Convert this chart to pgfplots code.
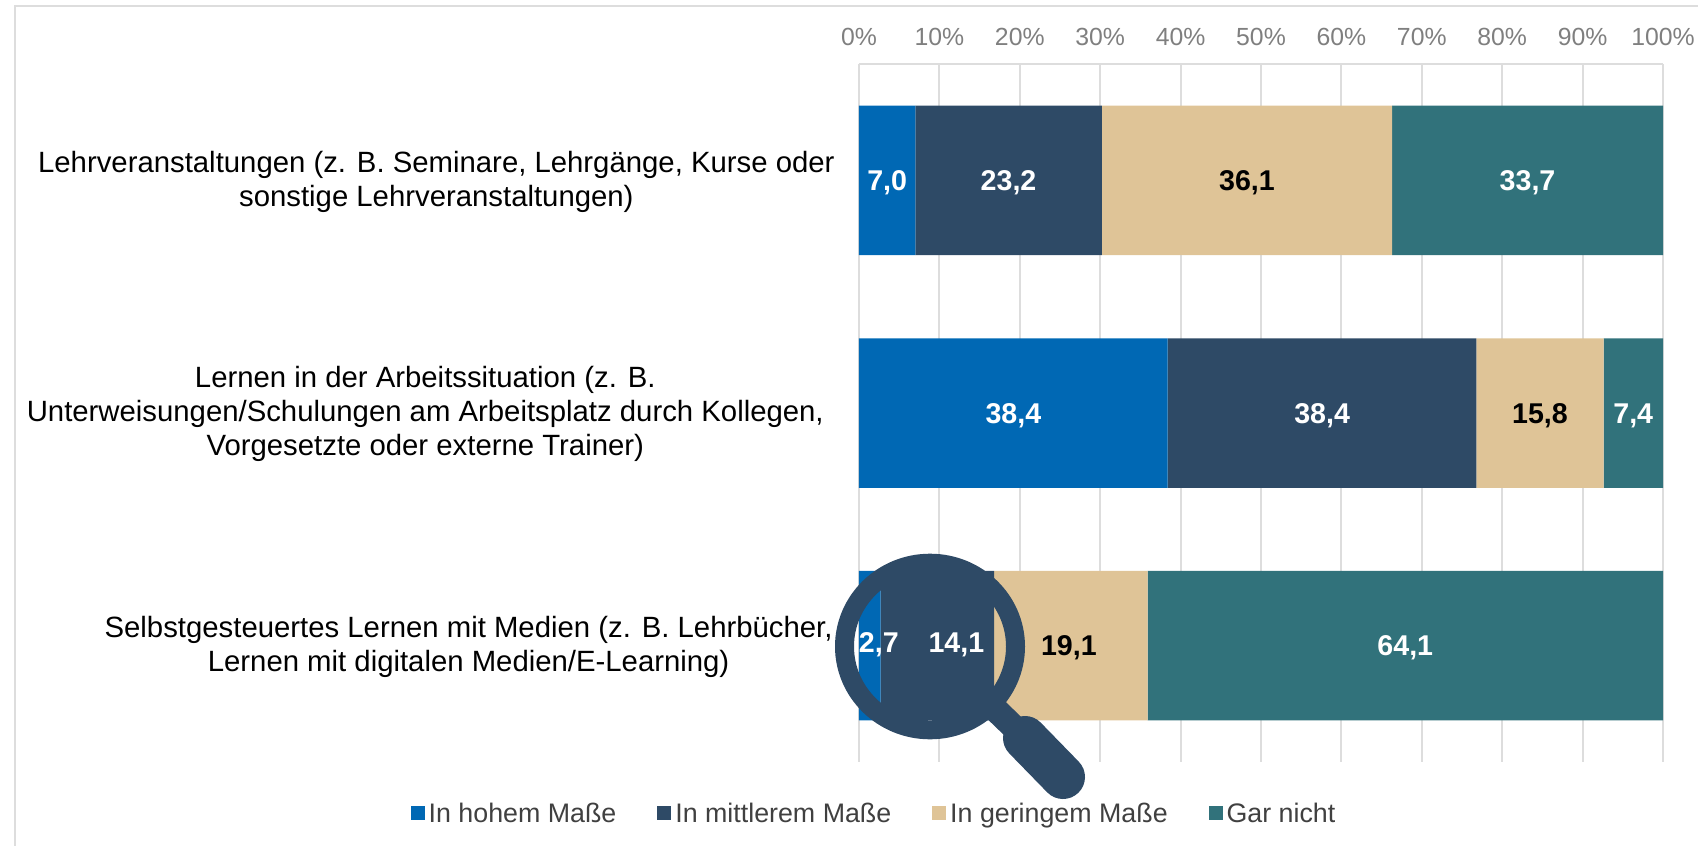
\documentclass[border=0pt]{standalone}
\usepackage{pgfplots}
\usepackage{pgfplotstable}
\usepackage{fontspec}
\setmainfont{Liberation Sans}
\pgfplotsset{compat=1.18}
\definecolor{cblue}{HTML}{0068B4}
\definecolor{cnavy}{HTML}{2E4A66}
\definecolor{ctan}{HTML}{DFC497}
\definecolor{cteal}{HTML}{31727B}
\definecolor{cgrid}{HTML}{DDDDDD}
\definecolor{ctick}{HTML}{7F7F7F}
\definecolor{cleg}{HTML}{404040}
\pgfplotstableread{
c v lab dx dy
0 7.0 7,0 0 0
1 38.4 38,4 0 0
2 2.7 2,7 4.5 1.5
}\hoch
\pgfplotstableread{
c v lab dx dy
0 23.2 23,2 0 0
1 38.4 38,4 0 0
2 14.1 14,1 9.5 1.5
}\mittel
\pgfplotstableread{
c v lab dx dy
0 36.1 36,1 0 0
1 15.8 15,8 0 0
2 19.1 19,1 -1 0
}\gering
\pgfplotstableread{
c v lab dx dy
0 33.7 33,7 0 0
1 7.4 7,4 0 0
2 64.1 64,1 0 0
}\garnicht
\begin{document}
\begin{tikzpicture}[x=0.5pt,y=-0.5pt]
\path[use as bounding box] (0,0) rectangle (1698,846);
\draw[cgrid,line width=1pt] (15,846) -- (15,6) -- (1698,6);
\begin{axis}[
  at={(429.5pt,-381pt)}, anchor=south west,
  scale only axis, width=402pt, height=349pt,
  xbar stacked, bar width=74.75pt,
  xmin=0, xmax=100, ymin=-0.5, ymax=2.5, y dir=reverse,
  axis x line*=top, axis y line*=left,
  axis line style={cgrid,line width=1pt},
  xtick={0,10,...,100}, xticklabel={\pgfmathprintnumber{\tick}\%},
  /pgf/number format/assume math mode=true,
  xticklabel style={font=\fontsize{12.4}{14}\selectfont,text=ctick,yshift=5.5pt},
  xmajorgrids, grid style={cgrid,line width=1pt},
  major tick length=0pt,
  ytick={0,1,2},
  yticklabels={
    {\begin{tabular}{@{}c@{}}Lehrveranstaltungen (z. B. Seminare, Lehrgänge, Kurse oder\\sonstige Lehrveranstaltungen)\end{tabular}},
    {\begin{tabular}{@{}c@{}}Lernen in der Arbeitssituation (z. B.\\Unterweisungen/Schulungen am Arbeitsplatz durch Kollegen,\\Vorgesetzte oder externe Trainer)\end{tabular}\rule{5.4pt}{0pt}},
    {\begin{tabular}{@{}c@{}}Selbstgesteuertes Lernen mit Medien (z. B. Lehrbücher,\\Lernen mit digitalen Medien/E-Learning)\end{tabular}\rule{1pt}{0pt}}},
  yticklabel style={font=\fontsize{14.66}{17}\selectfont,text=black,inner sep=0pt,xshift=-12pt,yshift=-1pt},
  point meta=explicit symbolic,
  visualization depends on={\thisrow{dx} \as \dx},
  visualization depends on={\thisrow{dy} \as \dy},
  nodes near coords,
  every node near coord/.append style={font=\fontsize{14.3}{16}\selectfont\bfseries,anchor=center,
    xshift={\dx*1pt},yshift={(\dy-1.2)*1pt}},
  legend style={draw=none,fill=none,legend columns=4,anchor=center,
    at={(axis description cs:0.02,-0.0746)},font=\fontsize{13.4}{15}\selectfont,text=cleg,
    /tikz/every even column/.append style={column sep=18.5pt}},
  legend image code/.code={\fill[#1] (-0.04cm,-0.1cm) rectangle (0.205cm,0.145cm);},
  legend cell align=left,
]
\addplot[fill=cblue,draw=none,nodes near coords style={text=white}] table[x=v,y=c,meta=lab]{\hoch};
\addplot[fill=cnavy,draw=none,nodes near coords style={text=white}] table[x=v,y=c,meta=lab]{\mittel};
\addplot[fill=ctan,draw=none,nodes near coords style={text=black}] table[x=v,y=c,meta=lab]{\gering};
\addplot[fill=cteal,draw=none,nodes near coords style={text=white}] table[x=v,y=c,meta=lab]{\garnicht};
\legend{In hohem Maße,In mittlerem Maße,In geringem Maße,Gar nicht}
\end{axis}
\draw[cnavy,line width=9.5pt] (930,646.5) ellipse (85.5 and 83.3);
\draw[cnavy,line width=12.5pt] (995,709) -- (1025,738);
\draw[cnavy,line width=22pt,line cap=round] (1025,738) -- (1063,777);
\end{tikzpicture}
\end{document}
